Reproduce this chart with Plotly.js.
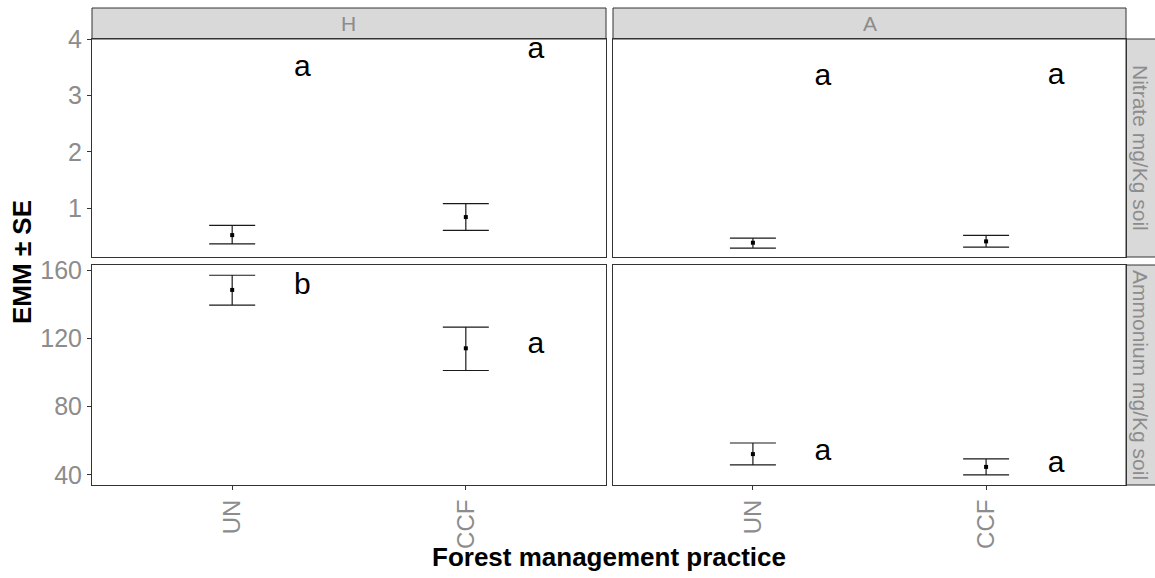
<!DOCTYPE html>
<html><head><meta charset="utf-8">
<script src="https://cdn.plot.ly/plotly-3.0.1.min.js"></script>
<style>html,body{margin:0;padding:0;background:#fff}#chart{width:1155px;height:578px}</style>
</head><body><div id="chart"></div>
<script>
// ---- data ----
const practices = ['UN', 'CCF'];
const sites = ['H', 'A'];
const variables = ['Nitrate mg/Kg soil', 'Ammonium mg/Kg soil'];

const nitrateH_emm = [0.526, 0.846];
const nitrateH_lower = [0.370, 0.610];
const nitrateH_upper = [0.698, 1.083];
const nitrateH_letters = ['a', 'a'];
const nitrateH_letterY = [3.48, 3.80];

const nitrateA_emm = [0.391, 0.415];
const nitrateA_lower = [0.297, 0.314];
const nitrateA_upper = [0.474, 0.521];
const nitrateA_letters = ['a', 'a'];
const nitrateA_letterY = [3.32, 3.34];

const ammoniumH_emm = [148.4, 114.2];
const ammoniumH_lower = [139.5, 101.2];
const ammoniumH_upper = [157.0, 126.6];
const ammoniumH_letters = ['b', 'a'];
const ammoniumH_letterY = [150.2, 115.7];

const ammoniumA_emm = [52.2, 44.7];
const ammoniumA_lower = [45.9, 40.0];
const ammoniumA_upper = [58.7, 49.4];
const ammoniumA_letters = ['a', 'a'];
const ammoniumA_letterY = [53.4, 45.9];

// ---- layout constants ----
const W = 1155, H = 578;
const FONT = 'Liberation Sans, Arial, sans-serif';
const GRAY = '#8c8c8c';
const px = v => v / W, py = v => 1 - v / H;
const xL = [px(92), px(606)], xR = [px(613), px(1126)];
const yT = [py(257), py(39)], yB = [py(485), py(265)];
const letterNudge = 0.3;

const panels = [
  {emm: nitrateH_emm, lo: nitrateH_lower, hi: nitrateH_upper, let: nitrateH_letters, ly: nitrateH_letterY, xa: 'x', ya: 'y'},
  {emm: nitrateA_emm, lo: nitrateA_lower, hi: nitrateA_upper, let: nitrateA_letters, ly: nitrateA_letterY, xa: 'x2', ya: 'y2'},
  {emm: ammoniumH_emm, lo: ammoniumH_lower, hi: ammoniumH_upper, let: ammoniumH_letters, ly: ammoniumH_letterY, xa: 'x3', ya: 'y3'},
  {emm: ammoniumA_emm, lo: ammoniumA_lower, hi: ammoniumA_upper, let: ammoniumA_letters, ly: ammoniumA_letterY, xa: 'x4', ya: 'y4'}
];

const pos = practices.map((_, i) => i + 1);
const traces = [];
panels.forEach(p => {
  traces.push({
    type: 'scatter', mode: 'markers', x: pos, y: p.emm, xaxis: p.xa, yaxis: p.ya,
    marker: {symbol: 'square', size: 4, color: '#000'},
    error_y: {type: 'data', symmetric: false,
      array: p.hi.map((h, i) => h - p.emm[i]),
      arrayminus: p.lo.map((l, i) => p.emm[i] - l),
      color: '#1a1a1a', thickness: 1.2, width: 23},
    showlegend: false, hoverinfo: 'skip'
  });
  traces.push({
    type: 'scatter', mode: 'text', x: pos.map(v => v + letterNudge), y: p.ly, text: p.let,
    xaxis: p.xa, yaxis: p.ya, textposition: 'middle center',
    textfont: {family: FONT, size: 30, color: '#000'},
    showlegend: false, hoverinfo: 'skip'
  });
});

function xaxis(domain, anchor, bottom) {
  return {domain: domain, anchor: anchor, range: [0.4, 2.6], tickvals: pos, ticktext: practices,
    showline: true, mirror: true, linecolor: '#333333', linewidth: 1, showgrid: false, zeroline: false,
    ticks: bottom ? 'outside' : '', ticklen: 4, tickcolor: '#333333', tickangle: -90,
    showticklabels: bottom, tickfont: {family: FONT, size: 24, color: GRAY}, fixedrange: true};
}
function yaxis(domain, anchor, range, dtick, left) {
  return {domain: domain, anchor: anchor, range: range, tick0: 0, dtick: dtick,
    showline: true, mirror: true, linecolor: '#333333', linewidth: 1, showgrid: false, zeroline: false,
    ticks: left ? 'outside' : '', ticklen: 4, tickcolor: '#333333',
    showticklabels: left, tickfont: {family: FONT, size: 25, color: GRAY}, fixedrange: true};
}
const nitrateRange = [0.138, 4.003];
const ammoniumRange = [34.1, 163.0];

const stripStyle = {type: 'rect', xref: 'paper', yref: 'paper', fillcolor: '#d9d9d9', line: {color: '#333333', width: 1}, layer: 'below'};
const shapes = [
  Object.assign({x0: xL[0], x1: xL[1], y0: py(39), y1: py(8)}, stripStyle),
  Object.assign({x0: xR[0], x1: xR[1], y0: py(39), y1: py(8)}, stripStyle),
  Object.assign({x0: px(1126), x1: px(1156), y0: yT[0], y1: yT[1]}, stripStyle),
  Object.assign({x0: px(1126), x1: px(1156), y0: yB[0], y1: yB[1]}, stripStyle)
];

const annotations = [
  {text: sites[0], x: (xL[0] + xL[1]) / 2, y: py(23.5)},
  {text: sites[1], x: (xR[0] + xR[1]) / 2, y: py(23.5)},
].map(a => Object.assign(a, {xref: 'paper', yref: 'paper', showarrow: false, xanchor: 'center', yanchor: 'middle',
  font: {family: FONT, size: 21, color: GRAY}}))
.concat([
  {text: variables[0], x: px(1141), y: (yT[0] + yT[1]) / 2},
  {text: variables[1], x: px(1141), y: (yB[0] + yB[1]) / 2}
].map(a => Object.assign(a, {xref: 'paper', yref: 'paper', showarrow: false, xanchor: 'center', yanchor: 'middle',
  textangle: 90, font: {family: FONT, size: 21, color: GRAY}})))
.concat([
  {text: '<b>Forest management practice</b>', x: (xL[0] + xR[1]) / 2, y: py(557), xref: 'paper', yref: 'paper',
   showarrow: false, xanchor: 'center', yanchor: 'middle', font: {family: FONT, size: 26, color: '#000'}},
  {text: '<b>EMM ± SE</b>', x: px(22), y: py(262), xref: 'paper', yref: 'paper', textangle: -90,
   showarrow: false, xanchor: 'center', yanchor: 'middle', font: {family: FONT, size: 26, color: '#000'}}
]);

const layout = {
  width: W, height: H, margin: {l: 0, r: 0, t: 0, b: 0},
  paper_bgcolor: '#ffffff', plot_bgcolor: '#ffffff', showlegend: false,
  font: {family: FONT},
  xaxis: xaxis(xL, 'y', false),
  xaxis2: xaxis(xR, 'y2', false),
  xaxis3: xaxis(xL, 'y3', true),
  xaxis4: xaxis(xR, 'y4', true),
  yaxis: yaxis(yT, 'x', nitrateRange, 1, true),
  yaxis2: yaxis(yT, 'x2', nitrateRange, 1, false),
  yaxis3: yaxis(yB, 'x3', ammoniumRange, 40, true),
  yaxis4: yaxis(yB, 'x4', ammoniumRange, 40, false),
  shapes: shapes, annotations: annotations
};

Plotly.newPlot('chart', traces, layout, {displayModeBar: false, staticPlot: true});
</script>
</body></html>
